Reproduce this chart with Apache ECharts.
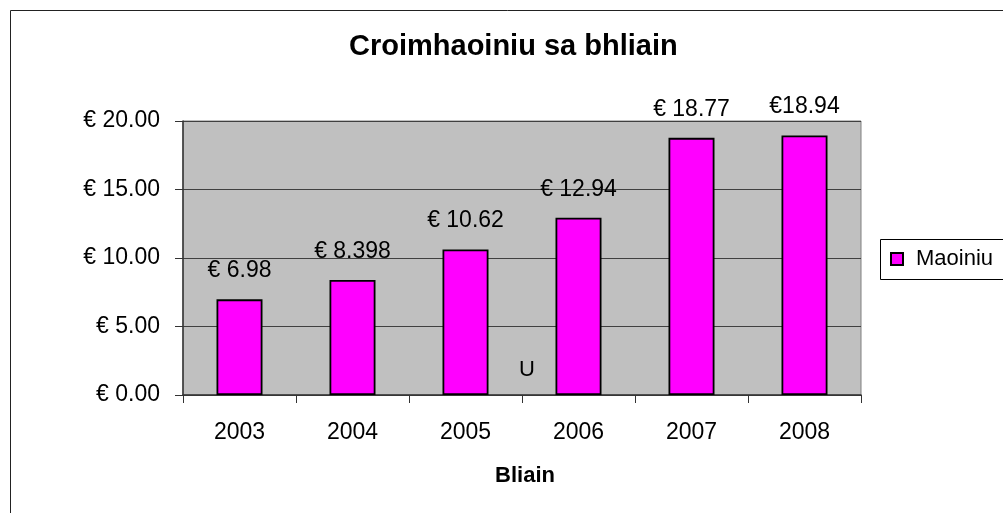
<!DOCTYPE html>
<html>
<head>
<meta charset="utf-8">
<script src="https://cdn.jsdelivr.net/npm/echarts@6/dist/echarts.min.js"></script>
<style>
html,body{margin:0;padding:0;background:#fff;}
#c{width:1003px;height:513px;}
</style>
</head>
<body>
<div id="c"></div>
<script>
const categories = ['2003', '2004', '2005', '2006', '2007', '2008'];
const values = [6.98, 8.398, 10.62, 12.94, 18.77, 18.94];
const valueLabels = ['€ 6.98', '€ 8.398', '€ 10.62', '€ 12.94', '€ 18.77', '€18.94'];
const seriesName = 'Maoiniu';
const titleText = 'Croimhaoiniu sa bhliain';
const xAxisTitle = 'Bliain';
const yMin = 0, yMax = 20, yStep = 5;

const FONT = '"Liberation Sans", Arial, sans-serif';
const chart = echarts.init(document.getElementById('c'));
chart.setOption({
  animation: false,
  backgroundColor: '#fff',
  textStyle: { fontFamily: FONT },
  title: {
    text: titleText,
    left: 349, top: 32, padding: 0,
    textStyle: { fontFamily: FONT, fontSize: 29, fontWeight: 'bold', color: '#000' }
  },
  legend: {
    data: [seriesName],
    left: 880, top: 239,
    orient: 'vertical',
    padding: [9, 0, 9, 10],
    borderWidth: 0,
    itemWidth: 12, itemHeight: 12,
    icon: 'rect',
    textStyle: { fontFamily: FONT, fontSize: 22, color: '#000', padding: [0, 0, 0, 8] }
  },
  grid: {
    left: 183, top: 121, width: 678, height: 274,
    show: true, backgroundColor: '#C0C0C0', borderColor: '#808080', borderWidth: 1,
    containLabel: false
  },
  xAxis: {
    type: 'category',
    data: categories,
    boundaryGap: true,
    axisLine: { lineStyle: { color: '#333', width: 1.5 } },
    axisTick: { show: true, inside: false, length: 8, lineStyle: { color: '#333' } },
    axisLabel: { fontFamily: FONT, fontSize: 23, color: '#000', margin: 26 }
  },
  yAxis: {
    type: 'value',
    min: yMin, max: yMax, interval: yStep,
    axisLine: { show: true, lineStyle: { color: '#333', width: 1.5 } },
    axisTick: { show: true, inside: false, length: 8, lineStyle: { color: '#333' } },
    splitLine: { show: true, lineStyle: { color: '#404040', width: 1 } },
    axisLabel: {
      fontFamily: FONT, fontSize: 23, color: '#000', margin: 23,
      formatter: v => '€ ' + v.toFixed(2)
    }
  },
  series: [{
    name: seriesName,
    type: 'bar',
    data: values,
    barWidth: 46,
    itemStyle: { color: '#FF00FF', borderColor: '#000', borderWidth: 1.8 },
    label: {
      show: true, position: 'top', distance: 17,
      fontFamily: FONT, fontSize: 23, color: '#000',
      formatter: p => valueLabels[p.dataIndex]
    }
  }],
  graphic: [
    {
      type: 'rect', silent: true, z: 100,
      shape: { x: 10.5, y: 10.5, width: 1010, height: 520 },
      style: { fill: 'none', stroke: '#222', lineWidth: 1 }
    },
    {
      type: 'rect', silent: true, z: 100,
      shape: { x: 880.5, y: 239.5, width: 200, height: 40 },
      style: { fill: 'none', stroke: '#000', lineWidth: 1 }
    },
    {
      type: 'text', silent: true, z: 100,
      x: 525, y: 476,
      style: { text: xAxisTitle, fontFamily: FONT, fontSize: 22, fontWeight: 'bold', fill: '#000', align: 'center', verticalAlign: 'middle' }
    },
    {
      type: 'text', silent: true, z: 100,
      x: 527, y: 370,
      style: { text: 'U', fontFamily: FONT, fontSize: 22, fill: '#000', align: 'center', verticalAlign: 'middle' }
    }
  ]
});
</script>
</body>
</html>
